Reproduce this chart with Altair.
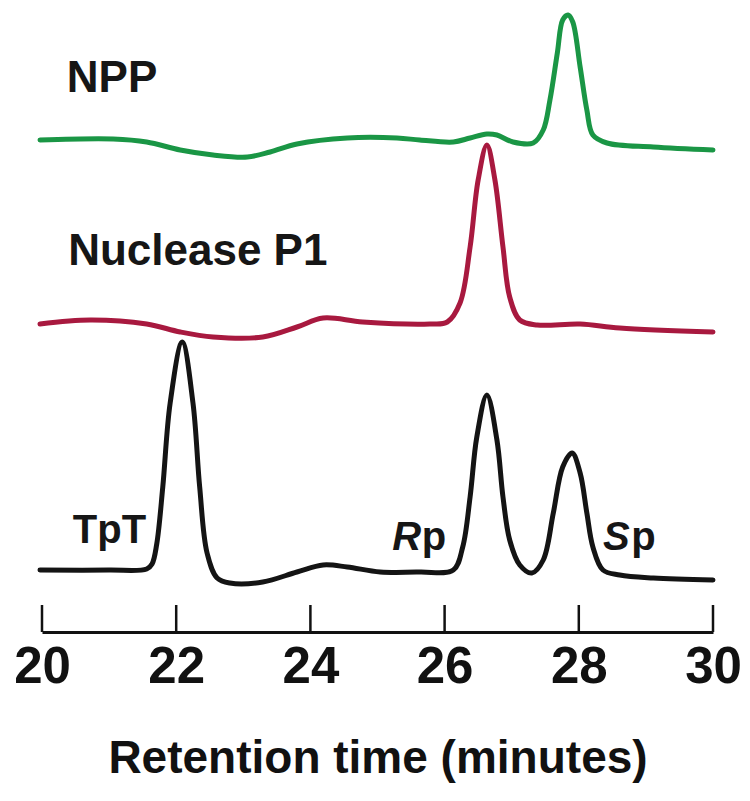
import altair as alt
import pandas as pd

# Retention time (minutes) and detector signal (arbitrary units, traces stacked)
black_t = [19.97, 21.0, 21.56, 21.64, 21.71, 21.80, 21.91, 22.09, 22.25, 22.35, 22.46, 22.61,
           22.80, 23.29, 23.80, 24.19, 24.55, 25.04, 25.63, 26.13, 26.27, 26.38, 26.48, 26.63,
           26.78, 26.87, 26.97, 27.12, 27.30, 27.47, 27.62, 27.76, 27.90, 28.02, 28.12, 28.21,
           28.36, 28.61, 29.11, 30.0]
black_v = [62, 62, 63, 68, 88, 145, 229, 290, 229, 145, 79, 54,
           49, 50, 60, 67, 65, 60, 60, 62, 85, 135, 195, 237,
           192, 135, 92, 67, 59, 72, 119, 165, 179, 159, 119, 85,
           62, 57, 54, 52]

red_t = [19.97, 20.72, 21.56, 22.06, 22.55, 23.29, 23.80, 24.19, 24.78, 25.78, 26.04, 26.23,
         26.38, 26.50, 26.63, 26.75, 26.87, 26.97, 27.12, 27.38, 28.02, 28.61, 30.0]
red_v = [308, 312, 308, 300, 295, 295, 305, 314, 310, 308, 310, 329,
         385, 452, 487, 452, 385, 335, 312, 307, 308, 304, 300]

green_t = [19.97, 21.06, 21.56, 22.06, 22.55, 23.06, 23.40, 23.80, 24.55, 25.29, 25.63, 26.13,
           26.38, 26.63, 26.78, 27.02, 27.32, 27.47, 27.57, 27.68, 27.76, 27.84, 27.91, 28.02,
           28.12, 28.21, 28.42, 29.11, 30.0]
green_v = [492, 493, 490, 482, 477, 475, 480, 488, 494, 494, 492, 490,
           494, 498, 497, 490, 489, 502, 532, 579, 612, 617, 610, 565,
           522, 497, 489, 485, 482]

trace_names = ["TpT mixture", "Nuclease P1", "NPP"]
trace_colors = ["#141414", "#a8193f", "#1a9645"]
tick_values = [20, 22, 24, 26, 28, 30]

rows = []
for name, ts, vs in [("TpT mixture", black_t, black_v),
                     ("Nuclease P1", red_t, red_v),
                     ("NPP", green_t, green_v)]:
    for i, (t, v) in enumerate(zip(ts, vs)):
        rows.append({"time": t, "signal": v, "trace": name, "order": i})
df = pd.DataFrame(rows)

x_scale = alt.Scale(domain=[20, 30], nice=False, zero=False)
y_scale = alt.Scale(domain=[0, 624], nice=False, zero=True)

lines = alt.Chart(df).mark_line(strokeWidth=5, interpolate="catmull-rom", strokeCap="round",
                                strokeJoin="round").encode(
    x=alt.X("time:Q", scale=x_scale,
            axis=alt.Axis(values=tick_values, format="d", ticks=False, tickSize=0, grid=False,
                          domainColor="#111", domainWidth=3,
                          labelFont="Liberation Sans", labelFontWeight="bold",
                          labelFontSize=51, labelColor="#111", labelPadding=10,
                          labelFlush=False, labelOverlap=False,
                          title="Retention time (minutes)", titleFont="Liberation Sans",
                          titleFontWeight="bold", titleFontSize=46, titleColor="#111",
                          titlePadding=44)),
    y=alt.Y("signal:Q", scale=y_scale, axis=None),
    color=alt.Color("trace:N", scale=alt.Scale(domain=trace_names, range=trace_colors), legend=None),
    order="order:Q",
)

ticks_df = pd.DataFrame({"time": tick_values})
ticks = alt.Chart(ticks_df).mark_rule(color="#111", strokeWidth=2.5).encode(
    x=alt.X("time:Q", scale=x_scale),
    y=alt.value(597),
    y2=alt.value(624),
)

# Annotation labels
big_labels = pd.DataFrame({
    "time": [20.37, 20.39],
    "signal": [540, 367],
    "text": ["NPP", "Nuclease P1"],
})
big = alt.Chart(big_labels).mark_text(
    align="left", baseline="alphabetic", font="Liberation Sans", fontWeight="bold",
    fontSize=44, color="#161616"
).encode(x=alt.X("time:Q", scale=x_scale), y=alt.Y("signal:Q", scale=y_scale), text="text:N")

tpt_df = pd.DataFrame({"time": [20.46], "signal": [89], "text": ["TpT"]})
tpt = alt.Chart(tpt_df).mark_text(
    align="left", baseline="alphabetic", font="Liberation Sans", fontWeight="bold",
    fontSize=40, color="#161616"
).encode(x=alt.X("time:Q", scale=x_scale), y=alt.Y("signal:Q", scale=y_scale), text="text:N")

ital_df = pd.DataFrame({"time": [25.22, 28.36], "signal": [82, 82], "text": ["R", "S"]})
ital = alt.Chart(ital_df).mark_text(
    align="left", baseline="alphabetic", font="Liberation Sans", fontWeight="bold",
    fontStyle="italic", fontSize=40, color="#161616"
).encode(x=alt.X("time:Q", scale=x_scale), y=alt.Y("signal:Q", scale=y_scale), text="text:N")

p_df = pd.DataFrame({"time": [25.66, 28.78], "signal": [82, 82], "text": ["p", "p"]})
p_lab = alt.Chart(p_df).mark_text(
    align="left", baseline="alphabetic", font="Liberation Sans", fontWeight="bold",
    fontSize=40, color="#161616"
).encode(x=alt.X("time:Q", scale=x_scale), y=alt.Y("signal:Q", scale=y_scale), text="text:N")

chart = alt.layer(lines, ticks, big, tpt, ital, p_lab).properties(
    width=671, height=624,
    autosize=alt.AutoSizeParams(type="none"),
    padding={"left": 34, "right": 29, "top": 0, "bottom": 160},
    background="white",
).configure_view(stroke=None)

chart.save("out.html", embed_options={"renderer": "svg", "actions": False})
